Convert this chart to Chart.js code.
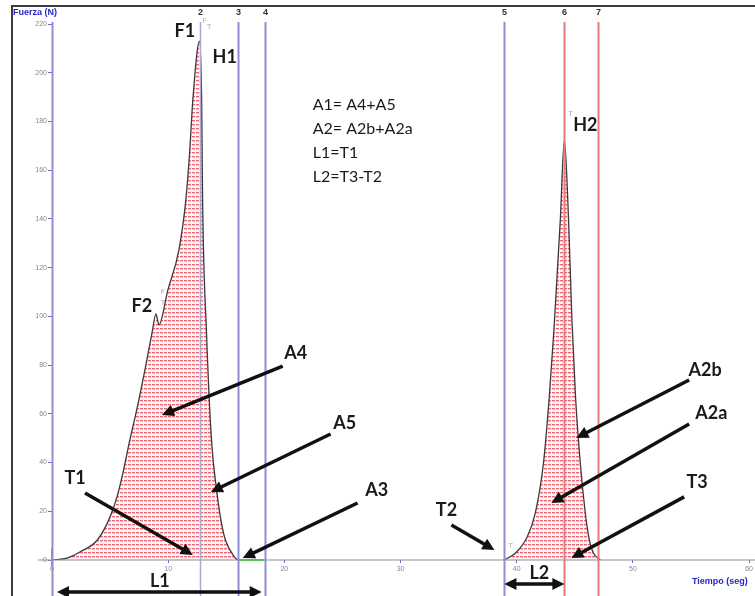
<!DOCTYPE html>
<html lang="es">
<head>
<meta charset="utf-8">
<title>Fuerza vs tiempo — TPA</title>
<script src="https://cdn.jsdelivr.net/npm/chart.js@4.4.1/dist/chart.umd.min.js"></script>
<style>
  html, body { margin: 0; padding: 0; background: #fff; }
  #wrap { position: relative; width: 755px; height: 596px; }
</style>
</head>
<body>
<div id="wrap"><canvas id="tpa"></canvas></div>
<script>
// Primer ciclo de compresión: tiempo (s) y fuerza (N)
const ciclo1Tiempo = [0, 1.3, 2.4, 3.9, 5.0, 5.6, 6.1, 6.7, 7.31, 8.08, 8.6, 8.95, 9.2, 9.97, 10.92, 11.52, 11.86, 12.12, 12.7,
  12.88, 12.96, 13.3, 13.73, 14.16, 14.59, 14.94, 15.71, 16.0];
const ciclo1Fuerza = [0, 0.8, 3.3, 8.2, 17.7, 26, 35.7, 49.3, 62, 80, 93, 101, 96.5, 110.8, 127.2, 147.8, 168.3, 188.8, 213,
  189, 148, 93, 49, 29, 15, 8, 1.2, 0];

// Segundo ciclo
const ciclo2Tiempo = [38.9, 39.9, 40.9, 41.6, 42.3, 42.8, 43.2, 43.75, 44.1, 44.46, 44.75, 45.06, 45.47, 45.9, 46.2, 46.6, 47.2];
const ciclo2Fuerza = [0, 2.9, 9.4, 19.3, 39.8, 66.9, 94.4, 139.6, 172.4, 139.6, 98.5, 66.9, 39.8, 19.3, 9.4, 2.9, 0];

// Marcadores verticales del ensayo (1 coincide con el eje de fuerza)
const marcadorNum = ['1', '2', '3', '4', '5', '6', '7'];
const marcadorTiempo = [0, 12.7, 16.0, 18.3, 38.9, 44.1, 47.0];

const tiempoTicks = [0, 10, 20, 30, 40, 50, 60];
const fuerzaTicks = [0, 20, 40, 60, 80, 100, 120, 140, 160, 180, 200, 220];

// Relaciones entre áreas y longitudes
const formulas = ['A1= A4+A5', 'A2= A2b+A2a', 'L1=T1', 'L2=T3-T2'];

// Etiquetas en unidades de los ejes: [texto, tiempo, fuerza]
const etiquetas = [
  ['F1', 11.43, 217.1], ['H1', 14.87, 206.5], ['F2', 7.74, 104.3],
  ['A4', 20.97, 85.0], ['A5', 25.19, 56.2], ['A3', 27.94, 28.7],
  ['T1', 1.98, 33.7], ['T2', 33.95, 20.5], ['T3', 55.53, 32.0],
  ['L1', 9.28, -8.6], ['L2', 41.95, -5.3], ['H2', 45.9, 178.5],
  ['A2b', 56.22, 78.0], ['A2a', 56.74, 60.3]
];

// Flechas: [t0, f0, t1, f1, doble punta]
const flechas = [
  [19.86, 79.6, 9.46, 59.5, false],   // A4
  [23.98, 51.7, 13.67, 27.9, false],  // A5
  [26.30, 23.4, 16.42, 0.8, false],   // A3
  [2.84, 27.5, 12.12, 2.1, false],    // T1
  [34.38, 14.4, 38.08, 4.1, false],   // T2
  [54.41, 25.9, 44.70, 0.8, false],   // T3
  [54.84, 73.9, 45.13, 50.1, false],  // A2b
  [54.84, 55.8, 42.98, 23.4, false],  // A2a
  [0.43, -13.1, 18.05, -13.1, true],  // L1
  [38.94, -9.85, 44.10, -9.85, true]  // L2
];

// Rayado horizontal rojo bajo las curvas
function rayado() {
  const c = document.createElement('canvas');
  c.width = 4; c.height = 4;
  const g = c.getContext('2d');
  g.fillStyle = 'rgba(253,240,241,0.7)';
  g.fillRect(0, 0, 4, 4);
  g.fillStyle = 'rgba(224,82,96,0.85)';
  g.fillRect(0, 0, 3, 1);
  g.fillStyle = 'rgba(236,150,158,0.55)';
  g.fillRect(0, 1, 3, 1);
  return g.createPattern(c, 'repeat');
}

function puntos(ts, fs) {
  return ts.map((t, i) => ({ x: t, y: fs[i] }));
}

function flecha(ctx, x0, y0, x1, y1, doble) {
  const ang = Math.atan2(y1 - y0, x1 - x0);
  const largo = 12, ancho = 6;
  const punta = (x, y, a) => {
    ctx.beginPath();
    ctx.moveTo(x, y);
    ctx.lineTo(x - largo * Math.cos(a) + ancho * Math.sin(a), y - largo * Math.sin(a) - ancho * Math.cos(a));
    ctx.lineTo(x - largo * Math.cos(a) - ancho * Math.sin(a), y - largo * Math.sin(a) + ancho * Math.cos(a));
    ctx.closePath();
    ctx.fill();
  };
  const sx = doble ? x0 + 8 * Math.cos(ang) : x0, sy = doble ? y0 + 8 * Math.sin(ang) : y0;
  ctx.beginPath();
  ctx.moveTo(sx, sy);
  ctx.lineTo(x1 - 8 * Math.cos(ang), y1 - 8 * Math.sin(ang));
  ctx.stroke();
  punta(x1, y1, ang);
  if (doble) punta(x0, y0, ang + Math.PI);
}

const marcasTPA = {
  id: 'marcasTPA',
  beforeDraw(chart) {
    const { ctx, width, height } = chart;
    ctx.save();
    ctx.fillStyle = '#fff';
    ctx.fillRect(0, 0, width, height);
    // marco del gráfico
    ctx.strokeStyle = '#3c3c3c';
    ctx.lineWidth = 2;
    ctx.strokeRect(12, 6, width + 20, height + 20);
    ctx.restore();
  },
  afterDatasetsDraw(chart) {
    const { ctx, chartArea, scales: { x, y }, height } = chart;
    ctx.save();
    // línea base y tramo verde entre los marcadores 3 y 4
    ctx.strokeStyle = '#8d8d8d';
    ctx.lineWidth = 1.2;
    ctx.beginPath();
    ctx.moveTo(x.getPixelForValue(-1.2), y.getPixelForValue(0));
    ctx.lineTo(chart.width, y.getPixelForValue(0));
    ctx.stroke();
    ctx.strokeStyle = '#58c058';
    ctx.lineWidth = 2;
    ctx.beginPath();
    ctx.moveTo(x.getPixelForValue(marcadorTiempo[2]), y.getPixelForValue(0));
    ctx.lineTo(x.getPixelForValue(marcadorTiempo[3]), y.getPixelForValue(0));
    ctx.moveTo(x.getPixelForValue(0), y.getPixelForValue(5));
    ctx.lineTo(x.getPixelForValue(0), y.getPixelForValue(-2.5));
    ctx.stroke();

    // marcadores verticales numerados
    marcadorTiempo.forEach((t, i) => {
      const px = Math.round(x.getPixelForValue(t)) + 0.5;
      const rojo = i >= 5;
      ctx.strokeStyle = rojo ? '#e77a7a' : (i === 1 ? '#a9a9d6' : '#8e8ed2');
      ctx.lineWidth = i === 1 ? 1.5 : 2;
      ctx.beginPath();
      ctx.moveTo(px, chartArea.top - 2);
      ctx.lineTo(px, height);
      ctx.stroke();
      if (i > 0) {
        ctx.fillStyle = '#333';
        ctx.font = 'bold 9px "Liberation Sans", Arial, sans-serif';
        ctx.textAlign = 'center';
        ctx.textBaseline = 'middle';
        ctx.fillText(marcadorNum[i], px, 13);
      }
    });

    // marcas grises de los puntos detectados
    ctx.fillStyle = '#a8a8a8';
    ctx.font = '7px "DejaVu Sans", sans-serif';
    ctx.textAlign = 'left';
    ctx.textBaseline = 'middle';
    [['F', 12.95, 221], ['T', 13.35, 218.5], ['F', 9.35, 110], ['T', 9.35, 105.5],
     ['T', 44.45, 183], ['T', 39.3, 5.5]].forEach(([s, t, f]) => {
      ctx.fillText(s, x.getPixelForValue(t), y.getPixelForValue(f));
    });
    ctx.restore();
  },
  afterDraw(chart) {
    const { ctx, scales: { x, y } } = chart;
    ctx.save();
    // títulos de ejes
    ctx.fillStyle = '#2626c8';
    ctx.font = 'bold 9px "Liberation Sans", Arial, sans-serif';
    ctx.textBaseline = 'middle';
    ctx.textAlign = 'left';
    ctx.fillText('Fuerza (N)', 13, 13);
    ctx.fillText('Tiempo (seg)', 692, 582);

    // flechas
    ctx.strokeStyle = '#111';
    ctx.fillStyle = '#111';
    ctx.lineWidth = 3.5;
    ctx.lineCap = 'butt';
    flechas.forEach(([t0, f0, t1, f1, doble]) => {
      flecha(ctx, x.getPixelForValue(t0), y.getPixelForValue(f0),
        x.getPixelForValue(t1), y.getPixelForValue(f1), doble);
    });

    // etiquetas
    ctx.fillStyle = '#1a1a1a';
    ctx.font = 'bold 18px Lato, "Open Sans", sans-serif';
    ctx.textAlign = 'center';
    ctx.textBaseline = 'middle';
    etiquetas.forEach(([s, t, f]) => {
      ctx.fillText(s, x.getPixelForValue(t), y.getPixelForValue(f));
    });

    // fórmulas
    ctx.font = '16px Lato, "Open Sans", sans-serif';
    ctx.textAlign = 'left';
    const fx = x.getPixelForValue(22.44);
    formulas.forEach((s, i) => {
      ctx.fillText(s, fx, y.getPixelForValue(186.7 - i * 9.85));
    });
    ctx.restore();
  }
};

const patron = rayado();

new Chart(document.getElementById('tpa'), {
  type: 'line',
  data: {
    datasets: [
      {
        label: 'Ciclo 1',
        data: puntos(ciclo1Tiempo, ciclo1Fuerza),
        borderColor: '#3a3a3a',
        borderWidth: 1.3,
        backgroundColor: patron,
        fill: 'origin',
        pointRadius: 0,
        cubicInterpolationMode: 'monotone'
      },
      {
        label: 'Ciclo 2',
        data: puntos(ciclo2Tiempo, ciclo2Fuerza),
        borderColor: '#3a3a3a',
        borderWidth: 1.3,
        backgroundColor: patron,
        fill: 'origin',
        pointRadius: 0,
        cubicInterpolationMode: 'monotone'
      }
    ]
  },
  options: {
    responsive: true,
    maintainAspectRatio: false,
    animation: false,
    events: [],
    layout: { padding: { left: 12, top: 24, right: 5, bottom: 0 } },
    plugins: { legend: { display: false }, tooltip: { enabled: false } },
    scales: {
      x: {
        type: 'linear',
        min: 0,
        max: 60,
        afterBuildTicks: (s) => { s.ticks = tiempoTicks.map((v) => ({ value: v })); },
        afterFit: (s) => { s.height = 36; },
        grid: { drawOnChartArea: false, tickLength: 3, color: '#6a6ad8' },
        border: { display: false },
        ticks: { font: { size: 7 }, color: '#888', maxRotation: 0, padding: 2 }
      },
      y: {
        min: 0,
        max: 220,
        afterBuildTicks: (s) => { s.ticks = fuerzaTicks.map((v) => ({ value: v })); },
        afterFit: (s) => { s.width = 40; },
        grid: { drawOnChartArea: false, tickLength: 4, color: '#6a6ad8' },
        border: { display: false },
        ticks: { font: { size: 7 }, color: '#888', padding: 1 }
      }
    }
  },
  plugins: [marcasTPA]
});
</script>
</body>
</html>
